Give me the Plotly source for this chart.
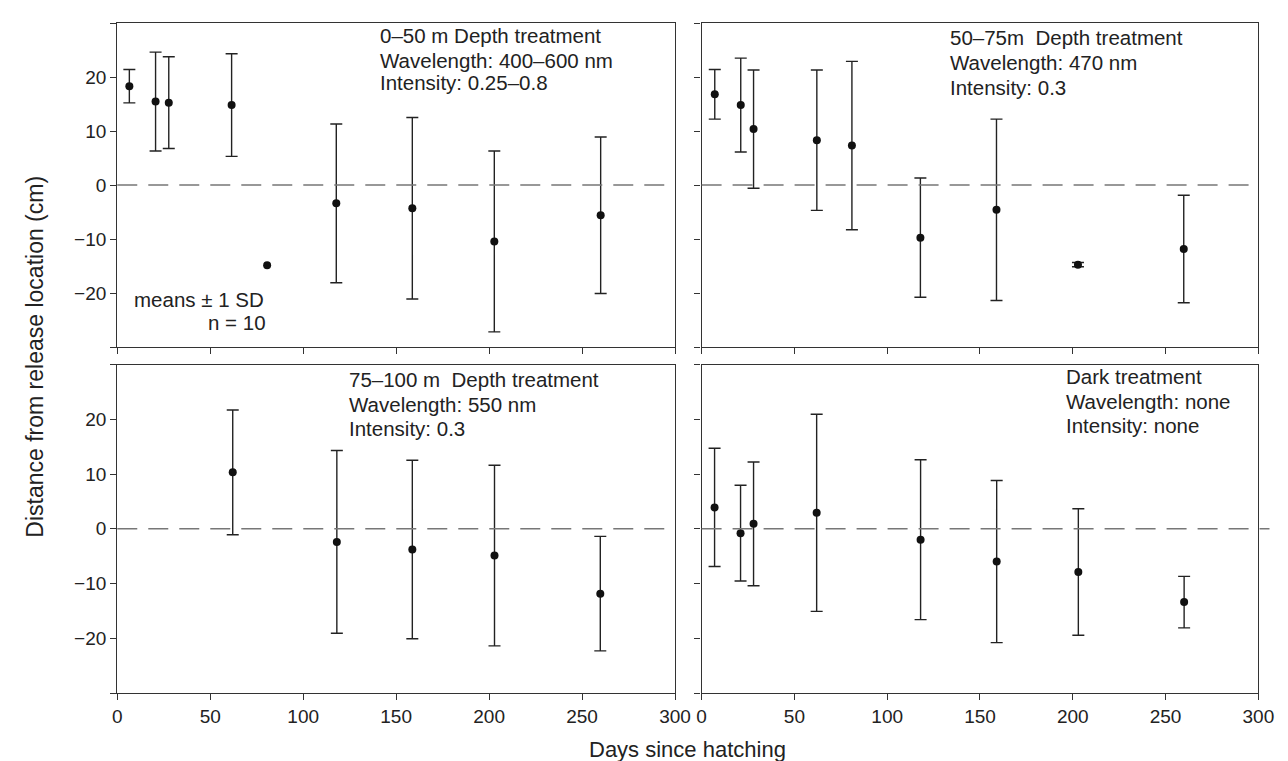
import plotly.graph_objects as go

W, H = 1288, 761

# ---- data (days since hatching, mean distance, SD; None = no visible SD) ----
tl_days = [6.5, 20.6, 27.7, 61.5, 80.6, 117.8, 158.7, 202.8, 260.0]
tl_mean = [18.3, 15.45, 15.25, 14.8, -14.85, -3.4, -4.3, -10.45, -5.6]
tl_sd = [3.1, 9.15, 8.5, 9.5, None, 14.7, 16.8, 16.75, 14.5]

tr_days = [7.1, 21.1, 28.0, 62.1, 81.0, 117.9, 158.9, 202.8, 259.8]
tr_mean = [16.8, 14.8, 10.35, 8.3, 7.3, -9.75, -4.6, -14.75, -11.85]
tr_sd = [4.6, 8.7, 10.95, 13.0, 15.6, 11.05, 16.8, 0.4, 9.95]

bl_days = [62.1, 118.1, 158.7, 202.9, 259.8]
bl_mean = [10.3, -2.4, -3.8, -4.9, -11.85]
bl_sd = [11.4, 16.7, 16.3, 16.5, 10.45]

br_days = [7.0, 21.0, 28.0, 62.0, 118.0, 159.0, 203.0, 260.0]
br_mean = [3.9, -0.8, 0.9, 2.9, -2.0, -6.0, -7.9, -13.4]
br_sd = [10.8, 8.75, 11.3, 18.0, 14.6, 14.8, 11.55, 4.7]

x_ticks = [0, 50, 100, 150, 200, 250, 300]
y_ticks = [-30, -20, -10, 0, 10, 20, 30]
y_labels = ["", "−20", "−10", "0", "10", "20", ""]

panel_texts = [
    ["0–50 m Depth treatment", "Wavelength: 400–600 nm", "Intensity: 0.25–0.8"],
    ["50–75m  Depth treatment", "Wavelength: 470 nm", "Intensity: 0.3"],
    ["75–100 m  Depth treatment", "Wavelength: 550 nm", "Intensity: 0.3"],
    ["Dark treatment", "Wavelength: none", "Intensity: none"],
]

FONT = "Liberation Sans, Arial, Helvetica, sans-serif"
TXT = "#222222"
AX = "#333333"


def px(p):
    return p / W


def py(p):
    return 1 - p / H


fig = go.Figure()

panels = [
    (tl_days, tl_mean, tl_sd, "x", "y"),
    (tr_days, tr_mean, tr_sd, "x2", "y2"),
    (bl_days, bl_mean, bl_sd, "x3", "y3"),
    (br_days, br_mean, br_sd, "x4", "y4"),
]
for d, m, s, xa, ya in panels:
    with_sd = [i for i in range(len(d)) if s[i] is not None]
    no_sd = [i for i in range(len(d)) if s[i] is None]
    fig.add_trace(go.Scatter(
        x=[d[i] for i in with_sd], y=[m[i] for i in with_sd],
        mode="markers", xaxis=xa, yaxis=ya,
        marker=dict(size=8, color="#111111"),
        error_y=dict(type="data", array=[s[i] for i in with_sd], visible=True,
                     color="#222222", thickness=1.4, width=6),
        showlegend=False, hoverinfo="skip",
    ))
    if no_sd:
        fig.add_trace(go.Scatter(
            x=[d[i] for i in no_sd], y=[m[i] for i in no_sd],
            mode="markers", xaxis=xa, yaxis=ya,
            marker=dict(size=8, color="#111111"),
            showlegend=False, hoverinfo="skip",
        ))

xdom_l = [px(106), px(673)]
xdom_r = [px(700), px(1266)]
ydom_t = [py(339), py(15)]
ydom_b = [py(685), py(356.5)]

common_x = dict(range=[0, 300], tickvals=x_ticks, ticks="outside", ticklen=6,
                tickwidth=1.3, tickcolor=AX, showline=True, linecolor=AX,
                linewidth=1.3, mirror=True, showgrid=False, zeroline=False,
                tickfont=dict(family=FONT, size=19, color=TXT))
common_y = dict(range=[-30, 30], tickvals=y_ticks, ticks="outside", ticklen=6,
                tickwidth=1.3, tickcolor=AX, showline=True, linecolor=AX,
                linewidth=1.3, mirror=True, showgrid=False, zeroline=False,
                tickfont=dict(family=FONT, size=19, color=TXT))

fig.update_layout(
    width=W, height=H,
    margin=dict(l=0, r=0, t=0, b=0),
    paper_bgcolor="white", plot_bgcolor="white",
    xaxis=dict(common_x, domain=xdom_l, anchor="y", showticklabels=False),
    yaxis=dict(common_y, domain=ydom_t, anchor="x", ticktext=y_labels),
    xaxis2=dict(common_x, domain=xdom_r, anchor="y2", showticklabels=False),
    yaxis2=dict(common_y, domain=ydom_t, anchor="x2", showticklabels=False),
    xaxis3=dict(common_x, domain=xdom_l, anchor="y3"),
    yaxis3=dict(common_y, domain=ydom_b, anchor="x3", ticktext=y_labels),
    xaxis4=dict(common_x, domain=xdom_r, anchor="y4"),
    yaxis4=dict(common_y, domain=ydom_b, anchor="x4", showticklabels=False),
)

# dashed zero lines
for xr, yr, x0, x1 in [("x domain", "y", 0, 1), ("x2 domain", "y2", 0, 1),
                       ("x3 domain", "y3", 0, 1), ("x4 domain", "y4", 0, 1.02)]:
    fig.add_shape(type="line", xref=xr, yref=yr, x0=x0, x1=x1, y0=0, y1=0,
                  line=dict(color="#777777", width=1.5, dash="20px,11px"))

# panel texts
text_pos = [(371, [28, 52, 75]), (950, [30, 55, 79]),
            (340, [371, 396, 420]), (1068, [369, 393, 417])]
for lines, (x0, ys) in zip(panel_texts, text_pos):
    for t, yy in zip(lines, ys):
        fig.add_annotation(x=px(x0), y=py(yy), xref="paper", yref="paper",
                           text=t, showarrow=False, xanchor="left",
                           yanchor="middle",
                           font=dict(family=FONT, size=20.5, color=TXT))

fig.add_annotation(x=px(121), y=py(291), xref="paper", yref="paper",
                   text="means ± 1 SD", showarrow=False, xanchor="left",
                   yanchor="middle", font=dict(family=FONT, size=20.5, color=TXT))
fig.add_annotation(x=px(259), y=py(314), xref="paper", yref="paper",
                   text="n = 10", showarrow=False, xanchor="right",
                   yanchor="middle", font=dict(family=FONT, size=20.5, color=TXT))

# axis titles
fig.add_annotation(x=px(22), y=py(349), xref="paper", yref="paper",
                   text="Distance from release location (cm)", showarrow=False,
                   textangle=-90, xanchor="center", yanchor="middle",
                   font=dict(family=FONT, size=23, color=TXT))
fig.add_annotation(x=px(686), y=py(741), xref="paper", yref="paper",
                   text="Days since hatching", showarrow=False,
                   xanchor="center", yanchor="middle",
                   font=dict(family=FONT, size=22, color=TXT))

fig.write_html("out.html")
